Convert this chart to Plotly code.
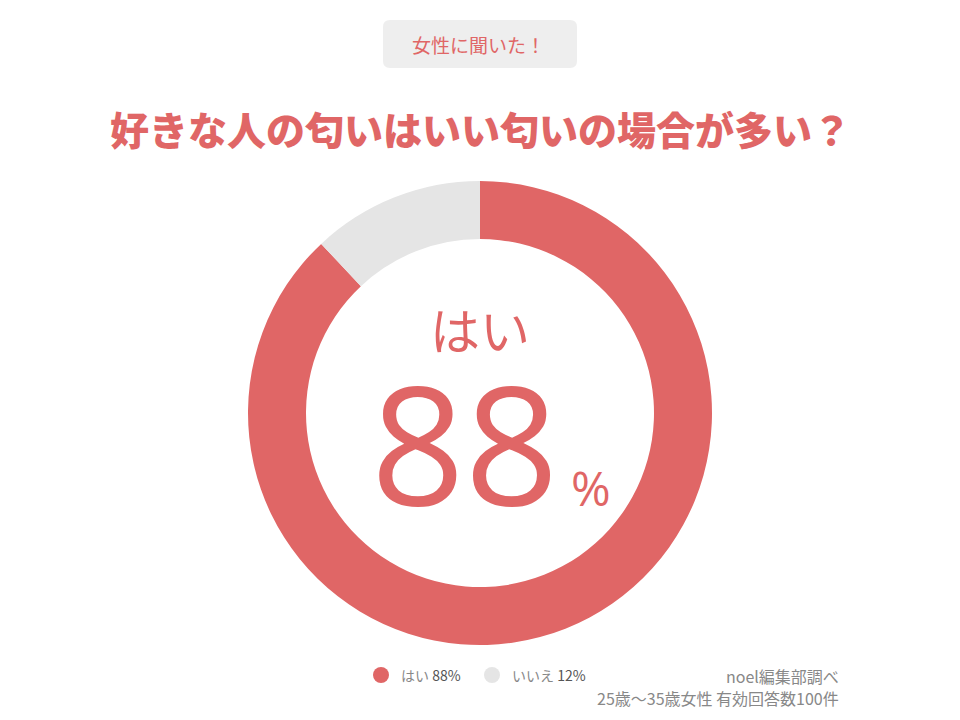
import plotly.graph_objects as go

# survey result
labels = ["はい", "いいえ"]
values = [88, 12]
colors = ["#e06666", "#e5e5e5"]

badge_text = "女性に聞いた！"
title_text = "好きな人の匂いはいい匂いの場合が多い？"
source_lines = ["noel編集部調べ", "25歳〜35歳女性 有効回答数100件"]

W, H = 960, 720
OFF = 8  # page body margin, the figure sits 8px in from the corner
red = "#e06666"
jp = "Noto Sans CJK JP"


def px(x):
    return (x - OFF) / W


def py(y):
    return 1 - (y - OFF) / H


fig = go.Figure()
fig.add_trace(go.Pie(
    labels=labels, values=values, hole=0.75, sort=False,
    direction="clockwise", rotation=0,
    marker=dict(colors=colors, line=dict(width=0)),
    textinfo="none", hoverinfo="label+percent", showlegend=False,
    domain=dict(x=[px(248), px(712)], y=[py(645), py(181)]),
))

# badge at the top (rounded box)
x0, x1, y0, y1, r = 383, 577, 20, 68, 7
path = (f"M {px(x0 + r)} {py(y0)} L {px(x1 - r)} {py(y0)} Q {px(x1)} {py(y0)} {px(x1)} {py(y0 + r)} "
        f"L {px(x1)} {py(y1 - r)} Q {px(x1)} {py(y1)} {px(x1 - r)} {py(y1)} "
        f"L {px(x0 + r)} {py(y1)} Q {px(x0)} {py(y1)} {px(x0)} {py(y1 - r)} "
        f"L {px(x0)} {py(y0 + r)} Q {px(x0)} {py(y0)} {px(x0 + r)} {py(y0)} Z")
fig.add_shape(type="path", path=path, xref="paper", yref="paper",
              fillcolor="#eeeeee", line=dict(width=0), layer="below")
fig.add_annotation(x=px(478), y=py(44), text=badge_text,
                   font=dict(family=jp, size=19, color=red))

# main title
fig.add_annotation(x=px(480), y=py(128), text=title_text,
                   font=dict(family=jp, size=39, color=red, weight=900))

# centre text
fig.add_annotation(x=px(480), y=py(328), text=labels[0],
                   font=dict(family=jp, size=50, color=red))
fig.add_annotation(x=px(465), y=py(441), text=str(values[0]),
                   font=dict(family="Open Sans", size=164, color=red))
fig.add_annotation(x=px(591), y=py(487), text="%",
                   font=dict(family="Open Sans", size=48, color=red))

# legend built by hand (round markers)
leg_x = [381, 492]
for i in range(len(labels)):
    cx = leg_x[i]
    fig.add_shape(type="circle", xref="paper", yref="paper",
                  x0=px(cx - 8), x1=px(cx + 8), y0=py(683), y1=py(667),
                  fillcolor=colors[i], line=dict(width=0))
    fig.add_annotation(x=px(cx + 18), y=py(675), xanchor="left",
                       text=f"<span style='color:#888888'>{labels[i]}</span> {values[i]}%",
                       font=dict(family=jp, size=14, color="#555555"))

# source note
for i, line in enumerate(source_lines):
    fig.add_annotation(x=px(841), y=py(676 + 22 * i), xanchor="right", text=line,
                       font=dict(family=jp, size=16, color="#888888"))

fig.update_annotations(xref="paper", yref="paper", showarrow=False, yanchor="middle")
fig.update_layout(width=W, height=H, margin=dict(l=0, r=0, t=0, b=0),
                  paper_bgcolor="white", plot_bgcolor="white")
fig.write_html("out.html")
